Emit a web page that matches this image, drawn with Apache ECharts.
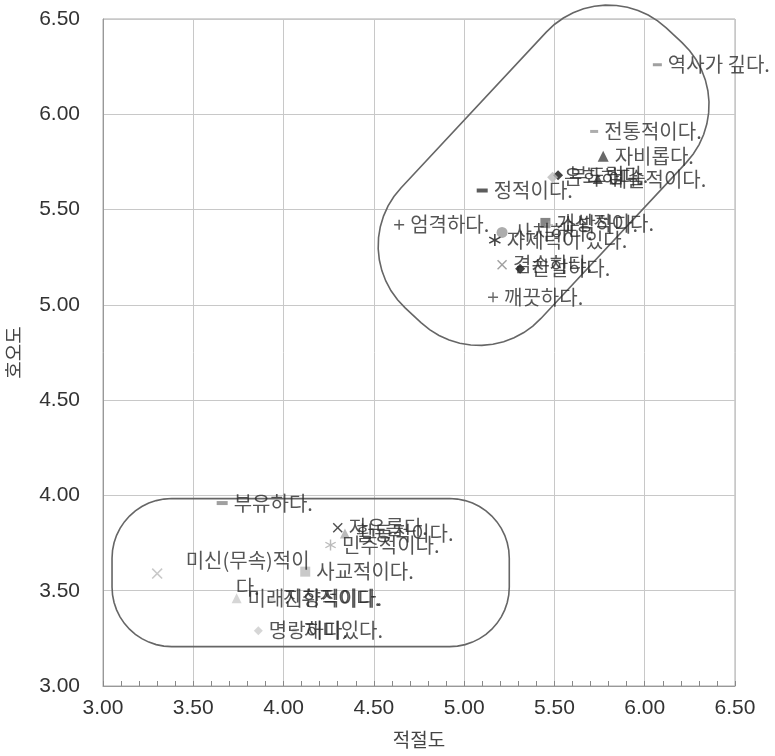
<!DOCTYPE html>
<html>
<head>
<meta charset="utf-8">
<script src="https://cdn.jsdelivr.net/npm/echarts@6/dist/echarts.min.js"></script>
<style>
html,body{margin:0;padding:0;background:#fff;}
#chart{width:775px;height:756px;}
</style>
</head>
<body>
<div id="chart"></div>
<script>
// ---- data ----
const labels = [
  '역사가 깊다.', '전통적이다.', '자비롭다.', '예술적이다.', '부드럽다.', '온화하다.',
  '정적이다.', '엄격하다.', '사치하다.', '자제력이 있다.', '개성적이다.', '소박하다.',
  '겸손하다.', '친절하다.', '깨끗하다.',
  '부유하다.', '자유롭다.', '활동적이다.', '민주적이다.', '미신(무속)적이다.',
  '사교적이다.', '미래지향적이다.', '진취적이다.', '명랑하다.', '재미있다.'
];
const adequacy = [   // 적절도
  6.07, 5.72, 5.77, 5.74, 5.52, 5.49,
  5.10, 4.64, 5.21, 5.17, 5.45, 5.47,
  5.21, 5.31, 5.16,
  3.66, 4.30, 4.34, 4.26, 3.30,
  4.12, 3.74, 3.94, 3.86, 4.06
];
const preference = [ // 호오도
  6.26, 5.91, 5.78, 5.66, 5.68, 5.67,
  5.60, 5.42, 5.38, 5.34, 5.43, 5.42,
  5.21, 5.19, 5.04,
  3.96, 3.83, 3.80, 3.74, 3.59,
  3.60, 3.46, 3.46, 3.29, 3.29
];
const axisTicks = ['3.00','3.50','4.00','4.50','5.00','5.50','6.00','6.50'];
const xName = '적절도';
const yName = '호오도';

// cluster outlines: [centerX, centerY, length, width, angleDeg, cornerRadius] (x-axis units)
const clusterOutlines = [
  [5.44, 5.68, 2.12, 1.06, 47, 0.47],
  [4.15, 3.595, 2.20, 0.82, 0, 0.33]
];

// ---- marker styles ----
const P = {
  plus: 'path://M4.3,0H5.7V4.3H10V5.7H5.7V10H4.3V5.7H0V4.3H4.3Z',
  cross: 'path://M1,0L5,4L9,0L10,1L6,5L10,9L9,10L5,6L1,10L0,9L4,5L0,1Z',
  star: 'path://M4.4,0H5.6V10H4.4Z M1.0,1.98L9.6,6.98L9.0,8.02L0.4,3.02Z M0.4,6.98L9.0,1.98L9.6,3.02L1.0,8.02Z'
};
const styles = [
  ['rect',[9,3],'#888'], ['rect',[8,3],'#999'], ['triangle',11,'#444'], ['triangle',10,'#333'],
  ['diamond',10,'#111'], ['diamond',11,'#bbb'],
  ['rect',[11,4],'#333'], [P.plus,10,'#333'], ['circle',11,'#999'], [P.star,12,'#111'],
  ['rect',10,'#666'], [P.plus,8,'#aaa'],
  [P.cross,10,'#888'], ['diamond',10,'#111'], [P.plus,10,'#444'],
  ['rect',[11,4],'#888'], [P.cross,10,'#222'], ['triangle',10,'#aaa'], [P.star,11,'#aaa'],
  [P.cross,11,'#bbb'],
  ['rect',10,'#bbb'], ['triangle',10,'#ccc'], ['triangle',8,'#ddd'], ['diamond',9,'#ccc'], ['diamond',7,'#ddd']
];

const points = labels.map((name, i) => {
  const s = styles[i];
  const item = {
    name: name,
    value: [adequacy[i], preference[i]],
    symbol: s[0],
    symbolSize: s[1],
    itemStyle: { color: s[2] }
  };
  if (i === 19) {
    // long label wraps onto two centred lines, as in the source figure
    item.label = { position: [96, 5.5], align: 'center', verticalAlign: 'middle',
                   width: 150, overflow: 'break', lineHeight: 27 };
  }
  return item;
});

function roundedRectPoints(a, b, r) {
  const pts = [];
  const corners = [[a - r, b - r, 0], [-(a - r), b - r, 90], [-(a - r), -(b - r), 180], [a - r, -(b - r), 270]];
  corners.forEach(c => {
    for (let k = 0; k <= 12; k++) {
      const t = (c[2] + k * 7.5) * Math.PI / 180;
      pts.push([c[0] + r * Math.cos(t), c[1] + r * Math.sin(t)]);
    }
  });
  return pts;
}

const chart = echarts.init(document.getElementById('chart'));
const axisCommon = {
  type: 'value', min: 3, max: 6.5, interval: 0.5,
  axisLine: { show: true, lineStyle: { color: '#999', width: 1 } },
  splitLine: { show: true, lineStyle: { color: '#c8c8c8', width: 1 } },
  axisLabel: {
    color: '#333', fontSize: 21, fontFamily: 'Liberation Sans, Arial, sans-serif',
    formatter: v => axisTicks[Math.round((v - 3) / 0.5)]
  },
  nameLocation: 'middle',
  nameTextStyle: { color: '#444', fontSize: 19, fontFamily: 'Noto Sans CJK KR' }
};

chart.setOption({
  animation: false,
  backgroundColor: '#fff',
  grid: { left: 103, right: 40, top: 19, bottom: 70, containLabel: false, outerBoundsMode: 'none',
          show: true, borderColor: '#aaa', borderWidth: 1 },
  xAxis: Object.assign({}, axisCommon, {
    name: xName, nameGap: 44,
    axisTick: { show: true, inside: true, length: 5, lineStyle: { color: '#888' } },
    minorTick: { show: true, splitNumber: 5, length: 5, lineStyle: { color: '#888' } },
    axisLabel: Object.assign({}, axisCommon.axisLabel, { margin: 12 })
  }),
  yAxis: Object.assign({}, axisCommon, {
    name: yName, nameGap: 80, nameRotate: 90,
    axisTick: { show: false },
    axisLabel: Object.assign({}, axisCommon.axisLabel, { margin: 23 })
  }),
  series: [
    {
      type: 'custom',
      silent: true,
      clip: false,
      z: 1,
      data: clusterOutlines,
      renderItem: function (params, api) {
        const c = api.coord([api.value(0), api.value(1)]);
        const unit = api.size([1, 0])[0];
        const a = api.value(2) * unit / 2, b = api.value(3) * unit / 2, r = api.value(5) * unit;
        const ang = api.value(4) * Math.PI / 180;
        const pts = roundedRectPoints(a, b, r).map(p => [
          c[0] + p[0] * Math.cos(ang) + p[1] * Math.sin(ang),
          c[1] - p[0] * Math.sin(ang) + p[1] * Math.cos(ang)
        ]);
        return {
          type: 'polygon',
          shape: { points: pts },
          style: { fill: 'none', stroke: '#666', lineWidth: 1.6 }
        };
      }
    },
    {
      type: 'scatter',
      z: 3,
      data: points,
      label: {
        show: true,
        position: 'right',
        distance: 6,
        formatter: p => p.name,
        color: '#2a2a2a',
        fontSize: 20,
        fontFamily: 'Noto Sans CJK KR'
      },
      labelLayout: { hideOverlap: false }
    }
  ]
});
</script>
</body>
</html>
